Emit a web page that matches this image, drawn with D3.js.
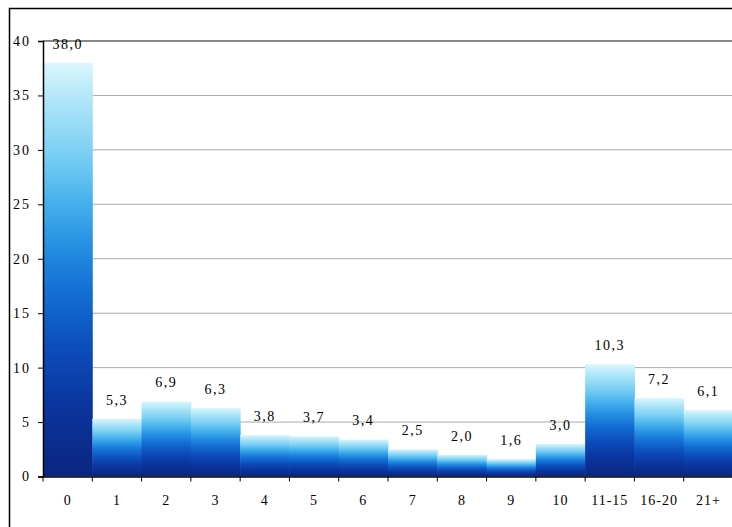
<!DOCTYPE html>
<html><head><meta charset="utf-8">
<script src="https://cdn.jsdelivr.net/npm/d3@7"></script>
<style>body{margin:0;background:#fff}svg{display:block}</style>
</head><body>
<script>
const categories = ["0","1","2","3","4","5","6","7","8","9","10","11-15","16-20","21+"];
const values = [38.0,5.3,6.9,6.3,3.8,3.7,3.4,2.5,2.0,1.6,3.0,10.3,7.2,6.1];
const labels = ["38,0","5,3","6,9","6,3","3,8","3,7","3,4","2,5","2,0","1,6","3,0","10,3","7,2","6,1"];
const yTicks = [0,5,10,15,20,25,30,35,40];

const W = 732, H = 527;
const FONT = '"Liberation Serif", "Times New Roman", serif';
const svg = d3.select("body").append("svg").attr("width", W).attr("height", H);
const defs = svg.append("defs");
const g = defs.append("linearGradient").attr("id","barGrad").attr("x1",0).attr("y1",1).attr("x2",0).attr("y2",0);
[[0,"#0a2680"],[0.18,"#0b36a0"],[0.32,"#0c4fbc"],[0.45,"#146fd4"],[0.56,"#2590e2"],[0.66,"#45b0ec"],[0.78,"#7acff4"],[0.9,"#acE4f8"],[1,"#daf7fd"]]
  .forEach(([o,c]) => g.append("stop").attr("offset",o).attr("stop-color",c));

// border
svg.append("rect").attr("x",9.5).attr("y",8.5).attr("width",740).attr("height",540)
  .attr("fill","none").attr("stroke","#000").attr("stroke-width",1.5);

const x0 = 43, x1 = 733, yTop = 41, yBot = 476.5;
const x = d3.scaleBand().domain(categories).range([x0, x1]).padding(0);
const y = d3.scaleLinear().domain([0,40]).range([yBot, yTop]);

// gridlines
svg.append("g").selectAll("line").data(yTicks.filter(d=>d>0)).join("line")
  .attr("x1",x0).attr("x2",x1).attr("y1",d=>y(d)).attr("y2",d=>y(d))
  .attr("stroke", d=> d===40 ? "#888" : "#aaa").attr("stroke-width", d=> d===40 ? 2 : 1);

// bars
svg.append("g").selectAll("rect").data(values).join("rect")
  .attr("x",(d,i)=>x(categories[i])).attr("width",x.bandwidth()+0.5)
  .attr("y",d=>y(d)).attr("height",d=>yBot-y(d))
  .attr("fill","url(#barGrad)");

// value labels
svg.append("g").selectAll("text").data(values).join("text")
  .attr("x",(d,i)=>x(categories[i])+x.bandwidth()/2)
  .attr("y",d=>y(d)-14)
  .attr("text-anchor","middle")
  .attr("font-family",FONT).attr("font-size",14).attr("letter-spacing",1.5)
  .attr("fill","#000")
  .text((d,i)=>labels[i]);

// y axis
const ya = svg.append("g").attr("transform",`translate(${x0},0)`)
  .call(d3.axisLeft(y).tickValues(yTicks).tickSize(5).tickPadding(7).tickFormat(d=>String(d)));
ya.select(".domain").attr("stroke","#000").attr("stroke-width",1.5);
ya.selectAll(".tick line").attr("stroke","#000");
ya.selectAll("text").attr("font-family",FONT).attr("font-size",14).attr("letter-spacing",2).attr("fill","#000");

// x axis
const xa = svg.append("g").attr("transform",`translate(0,${yBot})`)
  .call(d3.axisBottom(x).tickSize(0).tickPadding(19));
xa.select(".domain").attr("stroke","#000").attr("stroke-width",1.5);
xa.selectAll("text").attr("font-family",FONT).attr("font-size",14).attr("letter-spacing",1).attr("fill","#000");
// boundary ticks
svg.append("g").selectAll("line").data(categories).join("line")
  .attr("x1",d=>x(d)).attr("x2",d=>x(d)).attr("y1",yBot).attr("y2",yBot+5)
  .attr("stroke","#000");
</script>
</body></html>
